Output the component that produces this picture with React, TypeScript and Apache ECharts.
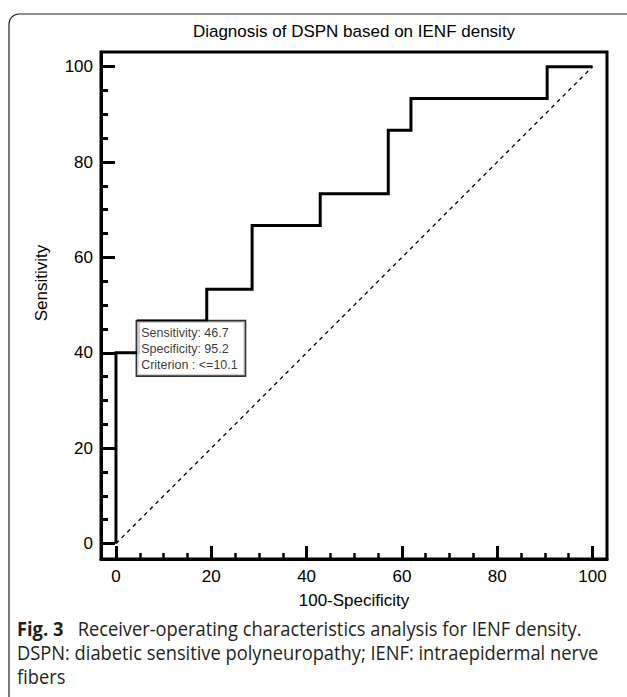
import React, { useEffect, useRef } from 'react';
import * as echarts from 'echarts';

const TITLE = 'Diagnosis of DSPN based on IENF density';
const X_NAME = '100-Specificity';
const Y_NAME = 'Sensitivity';
const MAJOR_TICKS = [0, 20, 40, 60, 80, 100];
const MINOR_TICKS = [5, 10, 15, 25, 30, 35, 45, 50, 55, 65, 70, 75, 85, 90, 95];
// ROC curve corner points (100-Specificity, Sensitivity)
const ROC_FPR = [0, 0, 4.76, 4.76, 19.05, 19.05, 28.57, 28.57, 42.86, 42.86, 57.14, 57.14, 61.9, 61.9, 90.48, 90.48, 100];
const ROC_TPR = [0, 40, 40, 46.67, 46.67, 53.33, 53.33, 66.67, 66.67, 73.33, 73.33, 86.67, 86.67, 93.33, 93.33, 100, 100];
const DIAG_X = [0, 100];
const DIAG_Y = [0, 100];
const CUT_POINT = [4.76, 46.67];
const CUT_LINES = ['Sensitivity: 46.7', 'Specificity: 95.2', 'Criterion : <=10.1'];
const CAPTION_BOLD = 'Fig. 3';
const CAPTION_LINES = [
  'Receiver-operating characteristics analysis for IENF density.',
  'DSPN: diabetic sensitive polyneuropathy; IENF: intraepidermal nerve',
  'fibers',
];

const FONT = 'Liberation Sans, Arial, sans-serif';
const CAP_FONT = 'Open Sans, Noto Sans, sans-serif';

export default function App() {
  const ref = useRef<HTMLDivElement>(null);
  useEffect(() => {
    const chart = echarts.init(ref.current!, null, { renderer: 'svg' });
    const xMin = -3.14, xMax = 103.04, yMin = -3.25, yMax = 103.08;
    const axisCommon = {
      type: 'value',
      splitLine: { show: false },
    };
    const capStyle = { fontSize: 20, fontFamily: CAP_FONT, fill: '#231f20', verticalAlign: 'middle' };
    chart.setOption({
      animation: false,
      backgroundColor: '#fff',
      title: {
        text: TITLE,
        left: 354,
        top: 23,
        padding: 0,
        textAlign: 'center',
        textStyle: { fontSize: 17, fontWeight: 'normal', fontFamily: FONT, color: '#000' },
      },
      grid: {
        left: 101, top: 52, width: 506, height: 507,
        show: true, borderColor: '#000', borderWidth: 3,
        containLabel: false, outerBoundsMode: 'none',
      },
      xAxis: [
        {
          ...axisCommon,
          min: xMin, max: xMax, position: 'bottom',
          name: X_NAME, nameLocation: 'middle', nameGap: 33,
          nameTextStyle: { fontSize: 17, fontFamily: FONT, color: '#000' },
          axisLine: { show: true, onZero: false, lineStyle: { color: '#000', width: 3 } },
          axisTick: { show: true, inside: true, length: 13, customValues: MAJOR_TICKS, lineStyle: { color: '#000', width: 3 } },
          axisLabel: { customValues: MAJOR_TICKS, fontSize: 17, fontFamily: FONT, color: '#000', margin: 9 },
        },
        {
          ...axisCommon,
          min: xMin, max: xMax, position: 'bottom',
          axisLine: { show: false, onZero: false },
          axisTick: { show: true, inside: true, length: 6, customValues: MINOR_TICKS, lineStyle: { color: '#000', width: 2.5 } },
          axisLabel: { show: false },
        },
      ],
      yAxis: [
        {
          ...axisCommon,
          min: yMin, max: yMax, position: 'left',
          axisLine: { show: true, onZero: false, lineStyle: { color: '#000', width: 3 } },
          axisTick: { show: true, inside: true, length: 14, customValues: MAJOR_TICKS, lineStyle: { color: '#000', width: 3 } },
          axisLabel: { customValues: MAJOR_TICKS, fontSize: 17, fontFamily: FONT, color: '#000', margin: 8 },
        },
        {
          ...axisCommon,
          min: yMin, max: yMax, position: 'left',
          axisLine: { show: false, onZero: false },
          axisTick: { show: true, inside: true, length: 7, customValues: MINOR_TICKS, lineStyle: { color: '#000', width: 3 } },
          axisLabel: { show: false },
        },
      ],
      series: [
        {
          type: 'line',
          data: DIAG_X.map((x, i) => [x, DIAG_Y[i]]),
          symbol: 'none',
          lineStyle: { color: '#000', width: 1.3, type: [4, 4] },
          silent: true,
        },
        {
          type: 'line',
          data: ROC_FPR.map((x, i) => [x, ROC_TPR[i]]),
          symbol: 'none',
          lineStyle: { color: '#000', width: 3, join: 'miter' },
          silent: true,
        },
        {
          type: 'scatter',
          data: [CUT_POINT],
          symbolSize: 1,
          itemStyle: { color: 'rgba(0,0,0,0)' },
          z: 10,
          label: {
            show: true,
            position: [0, 0],
            offset: [-1, 1],
            align: 'left',
            verticalAlign: 'top',
            formatter: CUT_LINES.join('\n'),
            fontFamily: FONT,
            fontSize: 12.5,
            lineHeight: 16.3,
            color: '#000',
            backgroundColor: '#fff',
            borderColor: '#000',
            borderWidth: 1.6,
            padding: [3, 7, 2, 4],
          },
        },
      ],
      graphic: [
        {
          type: 'rect',
          shape: { x: 9, y: 14, width: 660, height: 720, r: 10 },
          style: { fill: 'none', stroke: '#222', lineWidth: 1.2 },
          silent: true,
          z: -1,
        },
        {
          type: 'text',
          x: 41, y: 283,
          rotation: Math.PI / 2,
          style: { text: Y_NAME, fontSize: 17, fontFamily: FONT, fill: '#000', align: 'center', verticalAlign: 'middle' },
        },
        {
          type: 'text',
          x: 17, y: 629,
          scaleX: 0.915,
          style: {
            ...capStyle,
            text: '{b|' + CAPTION_BOLD + '}   ' + CAPTION_LINES[0],
            rich: { b: { fontWeight: 'bold', fontSize: 20, fontFamily: CAP_FONT, fill: '#231f20' } },
          },
        },
        {
          type: 'text',
          x: 17, y: 653,
          scaleX: 0.915,
          style: { ...capStyle, text: CAPTION_LINES[1] },
        },
        {
          type: 'text',
          x: 17, y: 677,
          scaleX: 0.915,
          style: { ...capStyle, text: CAPTION_LINES[2] },
        },
      ],
    });
    return () => chart.dispose();
  }, []);
  return <div ref={ref} style={{ position: 'fixed', left: 0, top: 0, width: 627, height: 697 }} />;
}
